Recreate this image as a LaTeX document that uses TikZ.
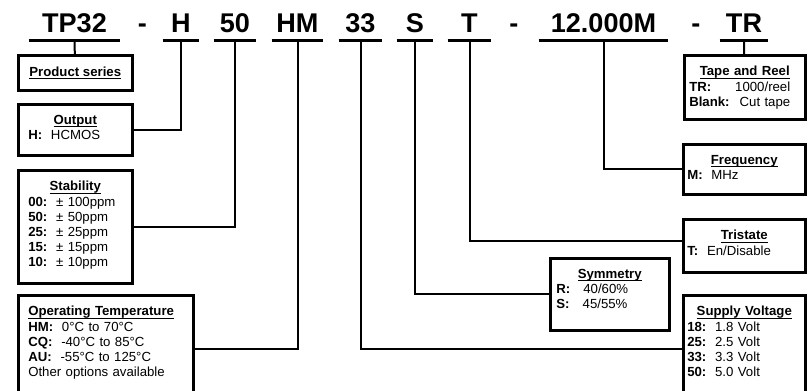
\documentclass[tikz,border=0pt]{standalone}
\usepackage{fontspec}
\setmainfont{Liberation Sans}
\usetikzlibrary{positioning}

\newsavebox{\hdrbox}
\newcommand{\hdr}[1]{\sbox{\hdrbox}{\textbf{#1}}\rlap{\rule[-2.2pt]{\wd\hdrbox}{0.8pt}}\usebox{\hdrbox}}

\begin{document}
\begin{tikzpicture}[
    x=0.75pt, y=-0.75pt,
    code/.style={font=\fontsize{20.3}{24}\selectfont\bfseries, inner sep=0pt, minimum width=#1*0.75pt, text depth=6pt, anchor=base},
    hyph/.style={font=\fontsize{20.3}{24}\selectfont\bfseries, inner sep=0pt, anchor=base},
    box/.style 2 args={draw, line width=1.9pt, anchor=north west, inner sep=0pt, minimum width=#1*0.75pt, minimum height=#2*0.75pt},
    info/.style={font=\fontsize{9.9}{11.4}\selectfont, inner sep=0pt, align=left, text width=#1*0.75pt, execute at begin node={\parindent=0pt}},
    wire/.style={line width=1.5pt},
    uline/.style={line width=2.25pt}
]
\useasboundingbox (0,0) rectangle (811,390);
\clip (0,0) rectangle (811,390);

% Part number
\node[code=91] (c_tp) at (74.5,32) {TP32};
\node[hyph] (d1) at (142.5,32) {-};
\node[code=36] (c_out) at (181,32) {H};
\node[code=42] (c_stab) at (235,32) {50};
\node[code=51] (c_temp) at (297.5,32) {HM};
\node[code=43] (c_volt) at (360.5,32) {33};
\node[code=36] (c_symm) at (415,32) {S};
\node[code=43] (c_tris) at (469.5,32) {T};
\node[hyph] (d2) at (514,32) {-};
\node[code=129] (c_freq) at (603.5,32) {12.000M};
\node[hyph] (d3) at (696,32) {-};
\node[code=48] (c_tape) at (744,32) {TR};

\draw[uline] (c_tp.south west) -- (c_tp.south east);
\draw[uline] (c_out.south west) -- (c_out.south east);
\draw[uline] (c_stab.south west) -- (c_stab.south east);
\draw[uline] (c_temp.south west) -- (c_temp.south east);
\draw[uline] (c_volt.south west) -- (c_volt.south east);
\draw[uline] (c_symm.south west) -- (c_symm.south east);
\draw[uline] (c_tris.south west) -- (c_tris.south east);
\draw[uline] (c_freq.south west) -- (c_freq.south east);
\draw[uline] (c_tape.south west) -- (c_tape.south east);

% Left boxes
\node[box={114}{35}] (series) at (17,54) {};
\node[box={114}{51}] (output) at (17,103) {};
\node[box={114}{113}] (stab) at (17,169) {};
\node[box={175}{107}] (temp) at (17,294) {};

\node[font=\fontsize{9.9}{11.4}\selectfont, inner sep=0pt] (series_txt) at (series.center) {\hdr{Product series}};
\node[info=94, below=9pt of output.north] (output_txt) {\makebox[\hsize]{\hdr{Output}}\\
    \textbf{H:}\ \ HCMOS};
\node[info=94, below=9pt of stab.north] (stab_txt) {\makebox[\hsize]{\hdr{Stability}}\\
    \textbf{00:}\ \ ± 100ppm\\
    \textbf{50:}\ \ ± 50ppm\\
    \textbf{25:}\ \ ± 25ppm\\
    \textbf{15:}\ \ ± 15ppm\\
    \textbf{10:}\ \ ± 10ppm};
\node[info=155, below=9pt of temp.north] (temp_txt) {\hdr{Operating Temperature}\\
    \textbf{HM:}\ \ 0°C to 70°C\\
    \textbf{CQ:}\ \ -40°C to 85°C\\
    \textbf{AU:}\ \ -55°C to 125°C\\
    Other options available};

% Right boxes
\node[box={121}{64}] (tape) at (683,54) {};
\node[box={122}{50}] (freq) at (682,143) {};
\node[box={122}{53}] (tris) at (682,218) {};
\node[box={119}{72}] (symm) at (549,257) {};
\node[box={122}{108}] (volt) at (682,294) {};

\node[info=111, below=9pt of tape.north] (tape_txt) {\makebox[\hsize]{\hdr{Tape and Reel}}\\
    \textbf{TR:}\hfill 1000/reel\rule{7.5pt}{0pt}\\
    \textbf{Blank:}\hfill Cut tape\rule{7.5pt}{0pt}};
\node[info=114, below=9pt of freq.north] (freq_txt) {\makebox[\hsize]{\hdr{Frequency}}\\
    \textbf{M:}\ \ MHz};
\node[info=114, below=9pt of tris.north] (tris_txt) {\makebox[\hsize]{\hdr{Tristate}}\\
    \textbf{T:}\ \ En/Disable};
\node[info=107, below=9pt of symm.north] (symm_txt) {\makebox[\hsize]{\hdr{Symmetry}}\\
    \textbf{R:}\quad 40/60\%\\
    \textbf{S:}\quad 45/55\%};
\node[info=114, below=9pt of volt.north] (volt_txt) {\makebox[\hsize]{\hdr{Supply Voltage}}\\
    \textbf{18:}\ \ 1.8 Volt\\
    \textbf{25:}\ \ 2.5 Volt\\
    \textbf{33:}\ \ 3.3 Volt\\
    \textbf{50:}\ \ 5.0 Volt};

% Connectors
\draw[wire] (c_tp.south) -- (series);
\draw[wire] (c_out.south) |- (output.east);
\draw[wire] (c_stab.south) |- (stab.east);
\draw[wire] (c_temp.south) |- (temp.east);
\draw[wire] (c_volt.south) |- (volt.west);
\draw[wire] (c_symm.south) |- (symm.west);
\draw[wire] (c_tris.south) |- ([yshift=3.75pt]tris.west);
\draw[wire] (c_freq.south) |- (freq.west);
\draw[wire] (c_tape.south) -- (tape);

\end{tikzpicture}
\end{document}
